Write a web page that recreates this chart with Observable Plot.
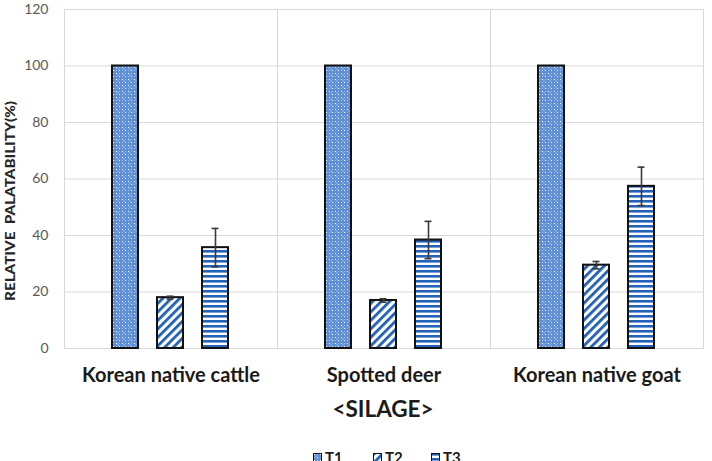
<!DOCTYPE html>
<html><head><meta charset="utf-8">
<script src="https://cdn.jsdelivr.net/npm/d3@7"></script>
<script src="https://cdn.jsdelivr.net/npm/@observablehq/plot@0.6"></script>
<style>
body{margin:0;background:#fff;}
#wrap{position:relative;width:712px;height:461px;overflow:hidden;font-family:Lato,sans-serif;background:#fff;}
#legend{position:absolute;top:449px;left:0;width:712px;height:12px;overflow:hidden;}
.li{position:absolute;top:0px;height:16px;font:700 15px Lato,sans-serif;color:#1a1a1a;line-height:16px;}
.sw{position:absolute;top:4px;width:9px;height:9px;}
</style></head><body>
<svg width="0" height="0" style="position:absolute">
  <defs>
    <pattern id="pat-T1" patternUnits="userSpaceOnUse" width="6" height="6">
      <rect width="6" height="6" fill="#5f8fd5"/>
      <rect x="1" y="1" width="1" height="1" fill="#ffffff"/>
      <rect x="4" y="4" width="1" height="1" fill="#ffffff"/>
      <rect x="1" y="4" width="1" height="1" fill="#9fbdea"/>
      <rect x="4" y="1" width="1" height="1" fill="#9fbdea"/>
      <rect x="2" y="2" width="2" height="2" fill="#7aa2dc"/>
    </pattern>
    <pattern id="pat-T2" patternUnits="userSpaceOnUse" width="6" height="6" patternTransform="rotate(45)">
      <rect width="6" height="6" fill="#ffffff"/>
      <rect width="2.8" height="6" fill="#1f5fb4"/>
    </pattern>
    <pattern id="pat-T3" patternUnits="userSpaceOnUse" width="6" height="5">
      <rect width="6" height="5" fill="#ffffff"/>
      <rect width="6" height="2.6" fill="#2262b8"/>
    </pattern>
  </defs>
</svg>
<div id="wrap"></div>
<script>
const categories = ["Korean native cattle", "Spotted deer", "Korean native goat"];
const series = ["T1", "T2", "T3"];
const t1 = [100, 100, 100];
const t2 = [18, 17, 29.5];
const t3 = [35.7, 38.4, 57.4];
const t1Err = [0, 0, 0];
const t2Err = [0.5, 0.6, 1.3];
const t3Err = [6.8, 6.6, 6.8];
const yTicks = [0, 20, 40, 60, 80, 100, 120];
const yTitle = "RELATIVE  PALATABILITY(%)";
const xTitle = "<SILAGE>";

const values = {T1: t1, T2: t2, T3: t3};
const errs = {T1: t1Err, T2: t2Err, T3: t3Err};
const rows = [];
categories.forEach((c, i) => series.forEach(s => rows.push({cat: c, s, v: values[s][i], e: errs[s][i]})));
const errRows = rows.filter(d => d.e > 0);

const barMarks = series.map(s => Plot.barY(rows.filter(d => d.s === s), {
  fx: "cat", x: "s", y: "v", fill: `url(#pat-${s})`, stroke: "#111", strokeWidth: 2
}));

const plot = Plot.plot({
  width: 712, height: 440,
  marginLeft: 63, marginRight: 9, marginTop: 9, marginBottom: 92,
  style: {fontFamily: "Lato, sans-serif", background: "white", overflow: "visible"},
  fx: {domain: categories, padding: 0, label: null},
  x: {domain: series, paddingInner: 0.413, paddingOuter: 1.025, axis: null},
  y: {domain: [0, 120], label: null},
  marks: [
    Plot.gridY(yTicks, {stroke: "#d9d9d9", strokeOpacity: 1}),
    Plot.frame({stroke: "#d9d9d9", strokeWidth: 1}),
    ...barMarks,
    Plot.ruleX(errRows, {fx: "cat", x: "s", y1: d => d.v - d.e, y2: d => d.v + d.e, stroke: "#3a3a3a", strokeWidth: 1.6}),
    Plot.tickY(errRows, {fx: "cat", x: "s", y: d => d.v + d.e, stroke: "#3a3a3a", strokeWidth: 1.6, insetLeft: 9.5, insetRight: 9.5}),
    Plot.tickY(errRows, {fx: "cat", x: "s", y: d => d.v - d.e, stroke: "#3a3a3a", strokeWidth: 1.6, insetLeft: 9.5, insetRight: 9.5}),
    Plot.axisY(yTicks, {anchor: "left", tickSize: 0, tickPadding: 16, fontSize: 14, fill: "#595959", label: null}),
    Plot.axisFx({anchor: "bottom", tickSize: 0, tickPadding: 19, fontSize: 20, fontWeight: "bold", fill: "#1a1a1a", label: null})
  ]
});

const svg = d3.select(plot);
svg.append("text")
  .attr("transform", "translate(10.5,201) rotate(-90)")
  .attr("text-anchor", "middle")
  .attr("dominant-baseline", "central")
  .attr("font-family", "Lato, sans-serif")
  .attr("font-weight", "900")
  .attr("font-size", 12.5)
  .attr("fill", "#262626")
  .attr("textLength", 200)
  .attr("lengthAdjust", "spacingAndGlyphs")
  .style("white-space", "pre")
  .text(yTitle);
svg.append("text")
  .attr("x", 383).attr("y", 417)
  .attr("text-anchor", "middle")
  .attr("font-family", "Lato, sans-serif")
  .attr("font-weight", "bold")
  .attr("font-size", 22.5)
  .attr("fill", "#1a1a1a")
  .text(xTitle);

const wrap = document.getElementById("wrap");
wrap.appendChild(plot);

const legend = document.createElement("div");
legend.id = "legend";
const legX = [313, 373, 431];
series.forEach((s, i) => {
  const sw = document.createElementNS("http://www.w3.org/2000/svg", "svg");
  sw.setAttribute("class", "sw");
  sw.setAttribute("width", 9); sw.setAttribute("height", 9);
  sw.style.left = legX[i] + "px";
  sw.innerHTML = `<rect x="0.5" y="0.5" width="8" height="8" fill="url(#pat-${s})" stroke="#111" stroke-width="1"/>`;
  legend.appendChild(sw);
  const t = document.createElement("span");
  t.className = "li";
  t.style.left = (legX[i] + 12) + "px";
  t.textContent = s;
  legend.appendChild(t);
});
wrap.appendChild(legend);
</script>
</body></html>
